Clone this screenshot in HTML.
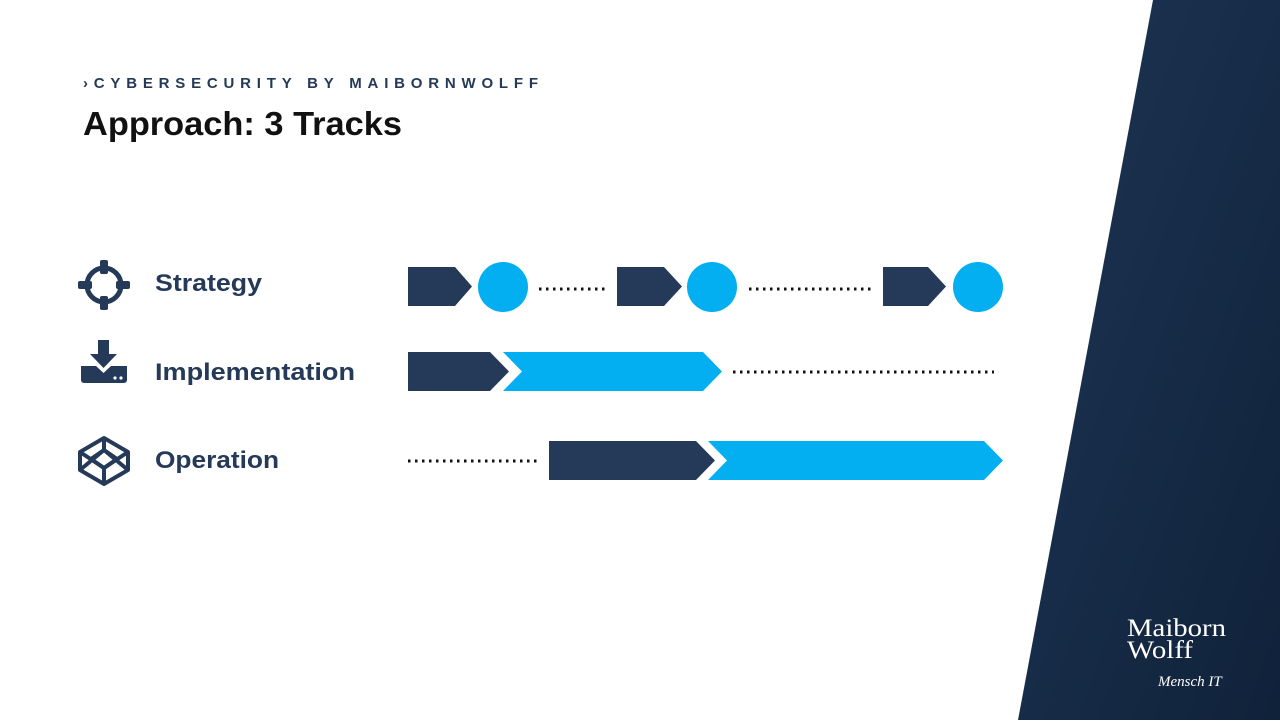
<!DOCTYPE html>
<html><head><meta charset="utf-8"><style>
body{margin:0;width:1280px;height:720px;overflow:hidden;background:#fff;font-family:"Liberation Sans",sans-serif}
</style></head><body>
<svg width="1280" height="720" viewBox="0 0 1280 720" xmlns="http://www.w3.org/2000/svg">
<defs><linearGradient id="g" x1="0" y1="0" x2="1" y2="1"><stop offset="0" stop-color="#1d3554"/><stop offset="1" stop-color="#10223a"/></linearGradient></defs>
<polygon points="1153,0 1280,0 1280,720 1018,720" fill="url(#g)"/>
<text x="83" y="88" font-size="15" font-weight="bold" fill="#243a58" textLength="455" lengthAdjust="spacing">›CYBERSECURITY BY MAIBORNWOLFF</text>
<text x="83" y="135" font-size="33" font-weight="bold" fill="#111" textLength="319" lengthAdjust="spacingAndGlyphs">Approach: 3 Tracks</text>
<g fill="#243a58" font-size="24" font-weight="bold">
<text x="155" y="291" textLength="107" lengthAdjust="spacingAndGlyphs">Strategy</text>
<text x="155" y="380" textLength="200" lengthAdjust="spacingAndGlyphs">Implementation</text>
<text x="155" y="468" textLength="124" lengthAdjust="spacingAndGlyphs">Operation</text>
</g>
<g fill="none" stroke="#243a58" stroke-width="5">
<circle cx="104" cy="285" r="17"/>
</g>
<g fill="#243a58">
<rect x="100" y="260" width="8" height="14" rx="2"/><rect x="100" y="296" width="8" height="14" rx="2"/>
<rect x="78" y="281" width="14" height="8" rx="2"/><rect x="116" y="281" width="14" height="8" rx="2"/>
<rect x="98" y="340" width="11" height="16"/><polygon points="90,354 117,354 103.5,368"/>
<path d="M81 366h15l7.5 7 7.5-7h16v14a3 3 0 0 1-3 3H84a3 3 0 0 1-3-3z"/>
</g>
<circle cx="115" cy="378" r="1.6" fill="#fff"/><circle cx="121" cy="378" r="1.6" fill="#fff"/>
<g fill="none" stroke="#243a58" stroke-width="4" stroke-linejoin="round">
<polygon points="104,438 128,452 128,470 104,484 80,470 80,452"/>
<polygon points="104,450 117,459 104,468 91,459"/>
<line x1="80" y1="452" x2="104" y2="468"/><line x1="128" y1="452" x2="104" y2="468"/>
<line x1="80" y1="470" x2="104" y2="450"/><line x1="128" y1="470" x2="104" y2="450"/>
<line x1="104" y1="438" x2="104" y2="450"/><line x1="104" y1="468" x2="104" y2="484"/>
</g>
<g fill="#243a58">
<polygon points="408,267 455,267 472,286.5 455,306 408,306"/>
<polygon points="617,267 664,267 682,286.5 664,306 617,306"/>
<polygon points="883,267 928,267 946,286.5 928,306 883,306"/>
<polygon points="408,352 490,352 509,371.5 490,391 408,391"/>
<polygon points="549,441 696,441 715,460.5 696,480 549,480"/>
</g>
<g fill="#03aff0">
<circle cx="503" cy="287" r="25"/><circle cx="712" cy="287" r="25"/><circle cx="978" cy="287" r="25"/>
<polygon points="503,352 703,352 722,371.5 703,391 503,391 522,371.5"/>
<polygon points="708,441 984,441 1003,460.5 984,480 708,480 727,460.5"/>
</g>
<g stroke="#111" stroke-width="3" stroke-dasharray="2.5 4.5" stroke-linecap="butt">
<line x1="539" y1="289" x2="607" y2="289"/>
<line x1="749" y1="289" x2="874" y2="289"/>
<line x1="733" y1="372" x2="994" y2="372"/>
<line x1="408" y1="461" x2="541" y2="461"/>
</g>
<text x="1127" y="636" font-family="Liberation Serif,serif" font-size="25" fill="#fff" textLength="99" lengthAdjust="spacingAndGlyphs">Maiborn</text>
<text x="1127" y="658" font-family="Liberation Serif,serif" font-size="25" fill="#fff" textLength="66" lengthAdjust="spacingAndGlyphs">Wolff</text>
<text x="1158" y="686" font-family="Liberation Serif,serif" font-style="italic" font-size="15" fill="#fff">Mensch IT</text>
</svg>
</body></html>
